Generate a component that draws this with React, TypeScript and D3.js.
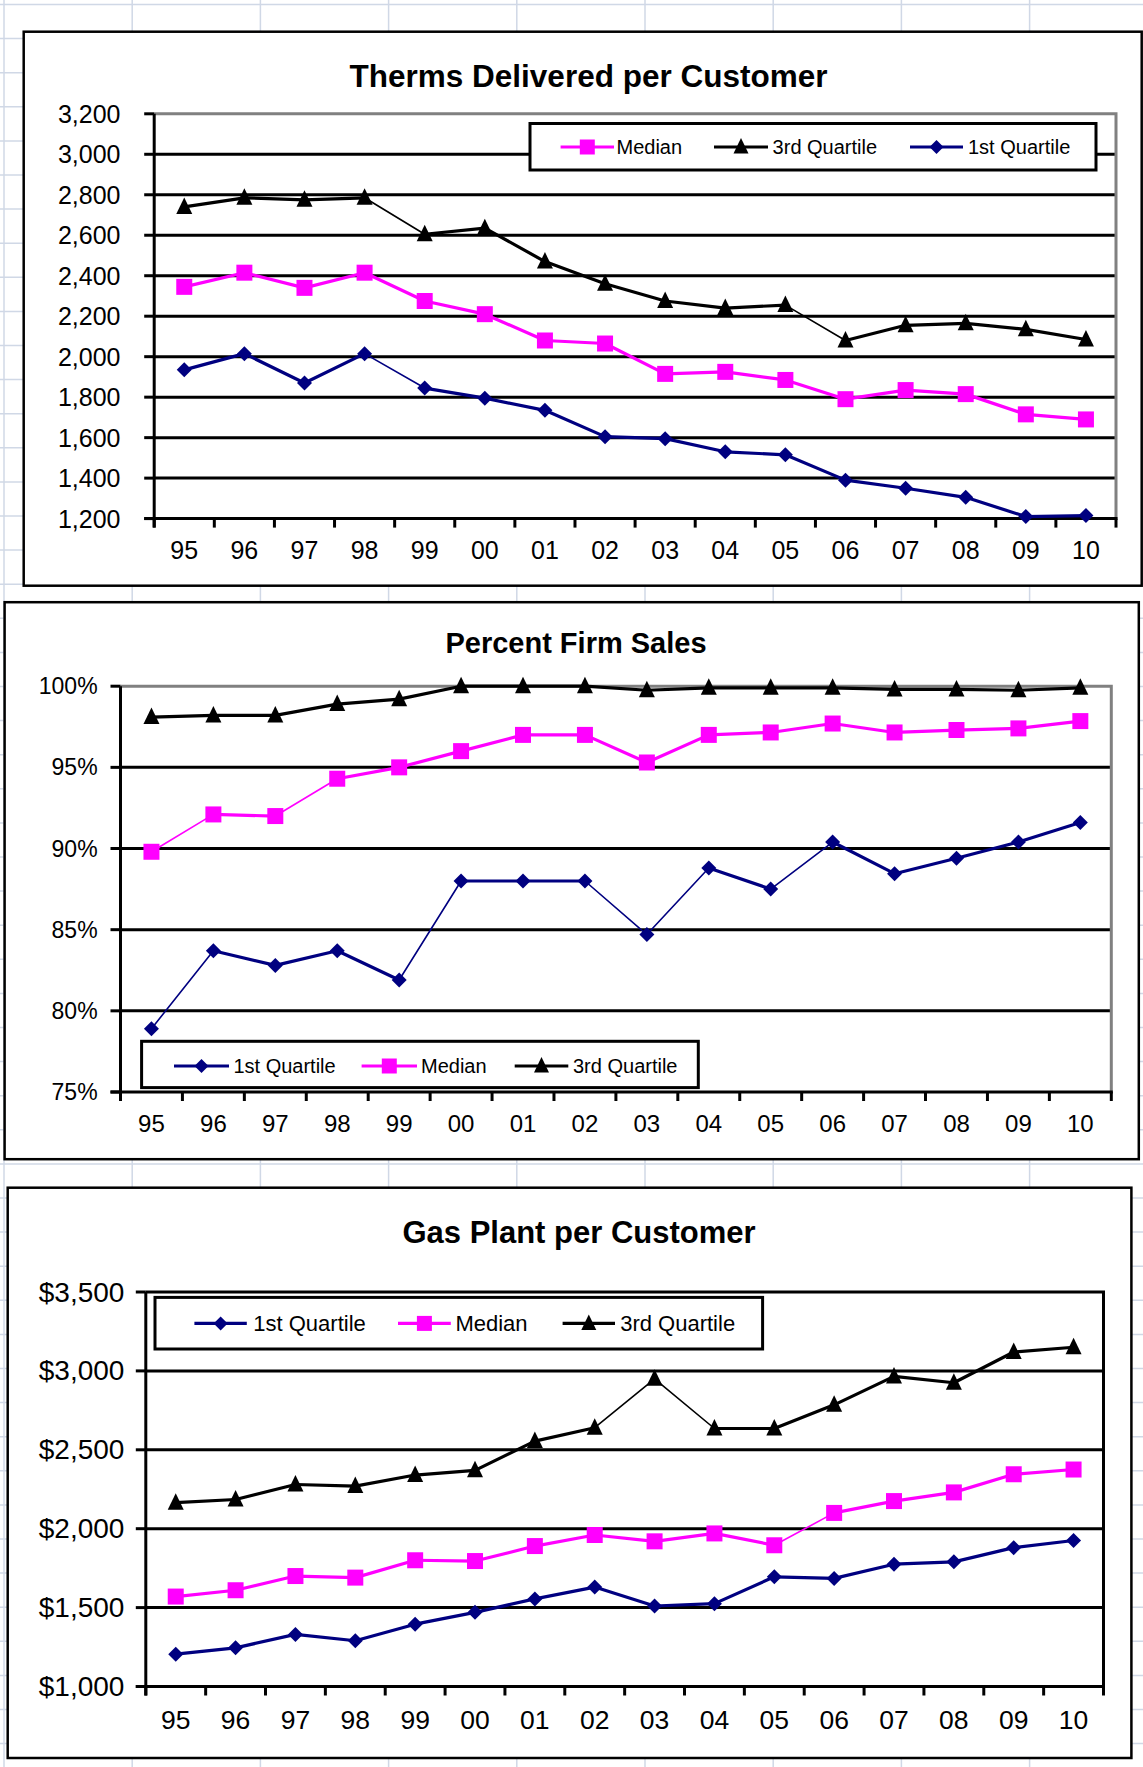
import React from 'react';
import * as d3 from 'd3';

// ---------- DATA ----------
const years = ['95', '96', '97', '98', '99', '00', '01', '02', '03', '04', '05', '06', '07', '08', '09', '10'];

const thermsMedian = [2345, 2415, 2340, 2415, 2275, 2210, 2080, 2065, 1915, 1925, 1885, 1790, 1835, 1815, 1715, 1690];
const therms3rd = [2740, 2785, 2775, 2785, 2605, 2635, 2470, 2360, 2275, 2240, 2255, 2080, 2155, 2165, 2135, 2085];
const therms1st = [1935, 2015, 1870, 2015, 1845, 1795, 1735, 1605, 1595, 1530, 1515, 1390, 1350, 1305, 1210, 1215];
const thermsTicks = [1200, 1400, 1600, 1800, 2000, 2200, 2400, 2600, 2800, 3000, 3200];

const firm1st = [78.9, 83.7, 82.8, 83.7, 81.9, 88.0, 88.0, 88.0, 84.7, 88.8, 87.5, 90.4, 88.45, 89.4, 90.4, 91.6];
const firmMedian = [89.8, 92.1, 92.0, 94.3, 95.0, 96.0, 97.0, 97.0, 95.3, 97.0, 97.15, 97.7, 97.15, 97.3, 97.4, 97.85];
const firm3rd = [98.1, 98.2, 98.2, 98.9, 99.2, 100, 100, 100, 99.75, 99.9, 99.9, 99.9, 99.8, 99.8, 99.75, 99.9];
const firmTicks = [75, 80, 85, 90, 95, 100];

const plant1st = [1205, 1245, 1330, 1290, 1395, 1470, 1555, 1630, 1510, 1525, 1695, 1685, 1775, 1790, 1880, 1925];
const plantMedian = [1570, 1610, 1700, 1690, 1800, 1795, 1890, 1960, 1920, 1970, 1895, 2100, 2175, 2230, 2345, 2375];
const plant3rd = [2165, 2185, 2280, 2270, 2340, 2370, 2555, 2640, 2950, 2635, 2635, 2785, 2965, 2925, 3120, 3150];
const plantTicks = [1000, 1500, 2000, 2500, 3000, 3500];

const NAME_1ST = '1st Quartile';
const NAME_MED = 'Median';
const NAME_3RD = '3rd Quartile';

// ---------- STYLE ----------
const NAVY = '#000080';
const MAGENTA = '#FF00FF';
const BLACK = '#000000';
const FONT = '"Liberation Sans", Arial, Helvetica, sans-serif';
const SHEET_GRID = '#D0D8E6';

type Marker = 'diamond' | 'square' | 'triangle';

function markerPath(m: Marker, s: number): string {
  if (m === 'diamond') {
    const h = s / 2;
    return `M0,${-h}L${h},0L0,${h}L${-h},0Z`;
  }
  if (m === 'square') {
    const h = s / 2;
    return `M${-h},${-h}H${h}V${h}H${-h}Z`;
  }
  const h = s / 2;
  return `M0,${-h - 1.5}L${h},${h - 1}L${-h},${h - 1}Z`;
}

interface Series {
  name: string;
  values: number[];
  color: string;
  marker: Marker;
  msize: number;
}

interface LegendEntry {
  series: Series;
  x0: number;
  x1: number;
  tx: number;
}

interface ChartProps {
  box: [number, number, number, number];
  plot: { l: number; r: number; t: number; b: number };
  domain: [number, number];
  ticks: number[];
  fmt: (v: number) => string;
  title: { text: string; x: number; y: number; size: number };
  series: Series[];
  legend: { x: number; y: number; w: number; h: number; rowY: number; size: number; entries: LegendEntry[] };
  yLabelRight: number;
  yFont: number;
  xLabelY: number;
  xFont: number;
  borderColor: string;
  thin: number;
}

function Chart(p: ChartProps) {
  const { plot } = p;
  const x = d3.scaleBand<string>().domain(years).range([plot.l, plot.r]).padding(0);
  const y = d3.scaleLinear().domain(p.domain).range([plot.b, plot.t]);
  const cx = (yr: string) => (x(yr) as number) + x.bandwidth() / 2;
  const bounds = years.map((yr) => x(yr) as number).concat([plot.r]);

  return (
    <g>
      <rect x={p.box[0]} y={p.box[1]} width={p.box[2]} height={p.box[3]} fill="#fff" stroke="#000" strokeWidth={2.5} />
      <text x={p.title.x} y={p.title.y} textAnchor="middle" fontFamily={FONT} fontWeight="bold" fontSize={p.title.size} fill="#000">
        {p.title.text}
      </text>
      {/* horizontal grid lines */}
      {p.ticks.slice(1, -1).map((t) => (
        <line key={'g' + t} x1={plot.l} x2={plot.r} y1={y(t)} y2={y(t)} stroke="#000" strokeWidth={3} />
      ))}
      {/* plot border top/right */}
      <path d={`M${plot.l},${plot.t}H${plot.r}V${plot.b}`} fill="none" stroke={p.borderColor} strokeWidth={3} />
      {/* axes */}
      <line x1={plot.l} x2={plot.l} y1={plot.t} y2={plot.b + 9} stroke="#000" strokeWidth={3} />
      <line x1={plot.l - 10} x2={plot.r + 1.5} y1={plot.b} y2={plot.b} stroke="#000" strokeWidth={3} />
      {p.ticks.map((t) => (
        <line key={'yt' + t} x1={plot.l - 10} x2={plot.l} y1={y(t)} y2={y(t)} stroke="#000" strokeWidth={3} />
      ))}
      {bounds.map((b, i) => (
        <line key={'xt' + i} x1={b} x2={b} y1={plot.b} y2={plot.b + 9} stroke="#000" strokeWidth={3} />
      ))}
      {p.ticks.map((t) => (
        <text key={'yl' + t} x={p.yLabelRight} y={y(t)} textAnchor="end" dominantBaseline="central" fontFamily={FONT} fontSize={p.yFont} fill="#000">
          {p.fmt(t)}
        </text>
      ))}
      {years.map((yr) => (
        <text key={'xl' + yr} x={cx(yr)} y={p.xLabelY} textAnchor="middle" dominantBaseline="central" fontFamily={FONT} fontSize={p.xFont} fill="#000">
          {yr}
        </text>
      ))}
      {/* series */}
      {p.series.map((s) => {
        const pts = s.values.map((v, i) => [cx(years[i]), y(v)] as [number, number]);
        return (
          <g key={s.name}>
            {pts.slice(0, -1).map((a, i) => {
              const b = pts[i + 1];
              const slope = Math.abs((b[1] - a[1]) / (b[0] - a[0]));
              return (
                <line key={i} x1={a[0]} y1={a[1]} x2={b[0]} y2={b[1]} stroke={s.color} strokeWidth={slope > p.thin ? 1.6 : 3.2} strokeLinecap="round" />
              );
            })}
            {pts.map((pt, i) => (
              <path key={'m' + i} d={markerPath(s.marker, s.msize)} transform={`translate(${pt[0]},${pt[1]})`} fill={s.color} />
            ))}
          </g>
        );
      })}
      {/* legend */}
      <rect x={p.legend.x} y={p.legend.y} width={p.legend.w} height={p.legend.h} fill="#fff" stroke="#000" strokeWidth={3} />
      {p.legend.entries.map((e) => (
        <g key={'lg' + e.series.name}>
          <line x1={e.x0} x2={e.x1} y1={p.legend.rowY} y2={p.legend.rowY} stroke={e.series.color} strokeWidth={3.2} />
          <path d={markerPath(e.series.marker, e.series.msize - 1)} transform={`translate(${(e.x0 + e.x1) / 2},${p.legend.rowY})`} fill={e.series.color} />
          <text x={e.tx} y={p.legend.rowY} dominantBaseline="central" fontFamily={FONT} fontSize={p.legend.size} fill="#000">
            {e.series.name}
          </text>
        </g>
      ))}
    </g>
  );
}

export default function App() {
  const W = 1143;
  const H = 1767;

  const vLines = d3.range(0, 9).map((k) => 4 + 128.2 * k);
  const hLines = d3.range(0, 52).map((k) => 4.5 + 34.1 * k);

  const s1 = {
    med: { name: NAME_MED, values: thermsMedian, color: MAGENTA, marker: 'square' as Marker, msize: 16 },
    q3: { name: NAME_3RD, values: therms3rd, color: BLACK, marker: 'triangle' as Marker, msize: 16 },
    q1: { name: NAME_1ST, values: therms1st, color: NAVY, marker: 'diamond' as Marker, msize: 15 },
  };
  const s2 = {
    q1: { name: NAME_1ST, values: firm1st, color: NAVY, marker: 'diamond' as Marker, msize: 15 },
    med: { name: NAME_MED, values: firmMedian, color: MAGENTA, marker: 'square' as Marker, msize: 16 },
    q3: { name: NAME_3RD, values: firm3rd, color: BLACK, marker: 'triangle' as Marker, msize: 16 },
  };
  const s3 = {
    q1: { name: NAME_1ST, values: plant1st, color: NAVY, marker: 'diamond' as Marker, msize: 15 },
    med: { name: NAME_MED, values: plantMedian, color: MAGENTA, marker: 'square' as Marker, msize: 16 },
    q3: { name: NAME_3RD, values: plant3rd, color: BLACK, marker: 'triangle' as Marker, msize: 16 },
  };

  const commaFmt = d3.format(',');

  return (
    <div style={{ position: 'absolute', left: 0, top: 0 }}>
      <svg width={W} height={H} viewBox={`0 0 ${W} ${H}`} style={{ display: 'block', background: '#fff' }}>
        <rect x={0} y={0} width={W} height={H} fill="#fff" />
        {vLines.map((v, i) => (
          <line key={'v' + i} x1={v} x2={v} y1={0} y2={H} stroke={SHEET_GRID} strokeWidth={1.5} />
        ))}
        {hLines.map((h, i) => (
          <line key={'h' + i} x1={0} x2={W} y1={h} y2={h} stroke={SHEET_GRID} strokeWidth={1.5} />
        ))}

        <Chart
          box={[23.7, 31.7, 1118, 554]}
          plot={{ l: 154.2, r: 1116, t: 113.8, b: 518.6 }}
          domain={[1200, 3200]}
          ticks={thermsTicks}
          fmt={(v) => commaFmt(v)}
          title={{ text: 'Therms Delivered per Customer', x: 588.5, y: 87.3, size: 31.5 }}
          series={[s1.q3, s1.med, s1.q1]}
          legend={{
            x: 530, y: 123.5, w: 566, h: 46.5, rowY: 147, size: 20,
            entries: [
              { series: s1.med, x0: 560.6, x1: 614, tx: 616.5 },
              { series: s1.q3, x0: 714, x1: 768, tx: 772.6 },
              { series: s1.q1, x0: 910, x1: 963, tx: 968 },
            ],
          }}
          yLabelRight={120.5}
          yFont={25}
          xLabelY={550}
          xFont={25}
          borderColor="#808080"
          thin={0.565}
        />

        <Chart
          box={[4.6, 602.2, 1134.2, 557]}
          plot={{ l: 120.5, r: 1111.3, t: 686.2, b: 1092 }}
          domain={[75, 100]}
          ticks={firmTicks}
          fmt={(v) => `${v}%`}
          title={{ text: 'Percent Firm Sales', x: 576, y: 652.9, size: 29 }}
          series={[s2.q3, s2.med, s2.q1]}
          legend={{
            x: 141.6, y: 1041.3, w: 556.7, h: 46.3, rowY: 1066, size: 20,
            entries: [
              { series: s2.q1, x0: 174, x1: 229, tx: 233.4 },
              { series: s2.med, x0: 361.6, x1: 417, tx: 421 },
              { series: s2.q3, x0: 514.7, x1: 568.3, tx: 573 },
            ],
          }}
          yLabelRight={97.6}
          yFont={23}
          xLabelY={1123.5}
          xFont={24}
          borderColor="#808080"
          thin={0.55}
        />

        <Chart
          box={[7.7, 1187.7, 1123.7, 570.3]}
          plot={{ l: 145.8, r: 1103.5, t: 1292, b: 1686.5 }}
          domain={[1000, 3500]}
          ticks={plantTicks}
          fmt={(v) => '$' + commaFmt(v)}
          title={{ text: 'Gas Plant per Customer', x: 579, y: 1243.2, size: 31 }}
          series={[s3.q3, s3.med, s3.q1]}
          legend={{
            x: 155, y: 1297.4, w: 607.6, h: 51.6, rowY: 1323.4, size: 22,
            entries: [
              { series: s3.q1, x0: 194.4, x1: 246.8, tx: 253.3 },
              { series: s3.med, x0: 398, x1: 450.8, tx: 455.4 },
              { series: s3.q3, x0: 562.6, x1: 615, tx: 620.2 },
            ],
          }}
          yLabelRight={124.4}
          yFont={28}
          xLabelY={1720}
          xFont={26.5}
          borderColor="#000000"
          thin={0.52}
        />
      </svg>
    </div>
  );
}
